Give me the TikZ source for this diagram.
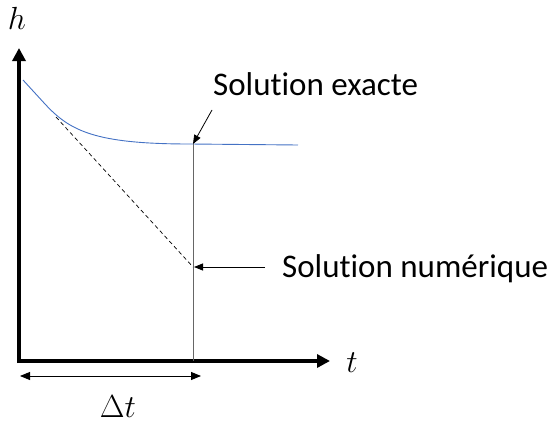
\RequirePackage{fix-cm}
\documentclass[tikz,border=0pt]{standalone}
\usepackage{fontspec}
\setmainfont[Ligatures=NoCommon]{Carlito}
\usetikzlibrary{arrows.meta}
\definecolor{curveblue}{HTML}{4472C4}
\tikzset{
  axis/.style={line width=3.8pt,-{Triangle[length=13pt,width=13pt]}},
  lbl/.style={font=\fontsize{33}{38}\selectfont,inner sep=0pt},
  mathlbl/.style={font=\fontsize{32}{38}\selectfont,inner sep=0pt},
  pointer/.style={line width=0.8pt,-{Triangle[length=9pt,width=7pt]}},
}
\begin{document}
\begin{tikzpicture}[x=1pt,y=-1pt]
\useasboundingbox (0,0) rectangle (547,423);
% axes
\coordinate (O) at (19,361);
\coordinate (ytip) at (19,48);
\coordinate (xtip) at (330,361);
\draw[axis] (19,363) -- (ytip);
\draw[axis] (O) -- (xtip);
\node[mathlbl] (hl) at (17,18) {$h$};
\node[mathlbl] (tl) at (352,363) {$t$};
% curve
\coordinate (c0) at (23,80);
\coordinate (cm) at (45,104);
\coordinate (c1) at (190,144);
\coordinate (c2) at (298,145);
\draw[curveblue,line width=0.9pt] (c0) -- (cm) .. controls (70,131) and (95,144) .. (c1) -- (c2);
% tangent
\coordinate (d0) at (56,117);
\coordinate (d1) at (193,267);
\draw[line width=0.7pt,dash pattern=on 4pt off 3pt] (d0) -- (d1);
% vertical
\coordinate (vtop) at (193,144);
\coordinate (vbot) at (193,361);
\draw[gray!80!black,line width=0.5pt] (vtop) -- (vbot);
% delta t
\coordinate (da) at (20,376);
\coordinate (db) at (201,376);
\draw[line width=0.9pt,{Triangle[length=10pt,width=8pt]}-{Triangle[length=10pt,width=8pt]}] (da) -- (db);
\node[mathlbl] (dt) at (118,407) {$\Delta t$};
% labels
\node[lbl,anchor=base west] (exa) at (213,95) {Solution exacte};
\node[lbl,anchor=base west] (num) at (282,277) {Solution numérique};
\coordinate (pe) at (212,110);
\draw[pointer] (pe) -- (vtop);
\coordinate (pn) at (265,267);
\draw[pointer] (pn) -- (194,267);
\end{tikzpicture}
\end{document}
